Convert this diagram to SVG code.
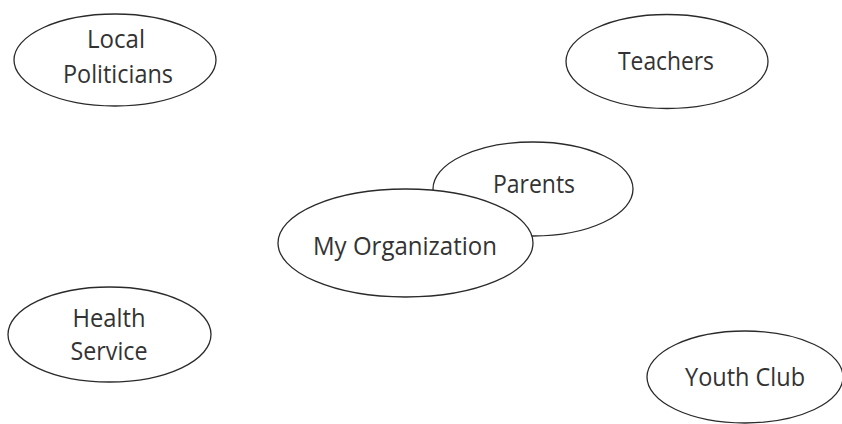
<svg xmlns="http://www.w3.org/2000/svg" width="842" height="424" viewBox="0 0 842 424">
<style>
.n ellipse{fill:#fff;stroke:#2a2a2a;stroke-width:1.3}
.n text{font-family:"Open Sans","DejaVu Sans",sans-serif;font-size:25px;fill:#333;text-anchor:middle}
</style>
<rect width="842" height="424" fill="#fff"/>
<g id="connectors"/>
<g id="local-politicians" class="n">
<ellipse cx="115" cy="60" rx="101" ry="46"/>
<text x="116" y="48" textLength="58" lengthAdjust="spacingAndGlyphs">Local</text>
<text x="118" y="83" textLength="110" lengthAdjust="spacingAndGlyphs">Politicians</text>
</g>
<g id="teachers" class="n">
<ellipse cx="667" cy="61.5" rx="101" ry="47"/>
<text x="666" y="70" textLength="96" lengthAdjust="spacingAndGlyphs">Teachers</text>
</g>
<g id="parents" class="n">
<ellipse cx="533" cy="189" rx="100" ry="47"/>
<text x="534" y="193" textLength="82" lengthAdjust="spacingAndGlyphs">Parents</text>
</g>
<g id="my-organization" class="n">
<ellipse cx="405.5" cy="243" rx="127.5" ry="54"/>
<text x="405" y="255" textLength="184" lengthAdjust="spacingAndGlyphs">My Organization</text>
</g>
<g id="health-service" class="n">
<ellipse cx="109.5" cy="334.5" rx="101.5" ry="47.5"/>
<text x="109" y="327" textLength="73" lengthAdjust="spacingAndGlyphs">Health</text>
<text x="109" y="360" textLength="77" lengthAdjust="spacingAndGlyphs">Service</text>
</g>
<g id="youth-club" class="n">
<ellipse cx="745" cy="377" rx="98" ry="46"/>
<text x="745" y="386" textLength="120" lengthAdjust="spacingAndGlyphs">Youth Club</text>
</g>
</svg>
